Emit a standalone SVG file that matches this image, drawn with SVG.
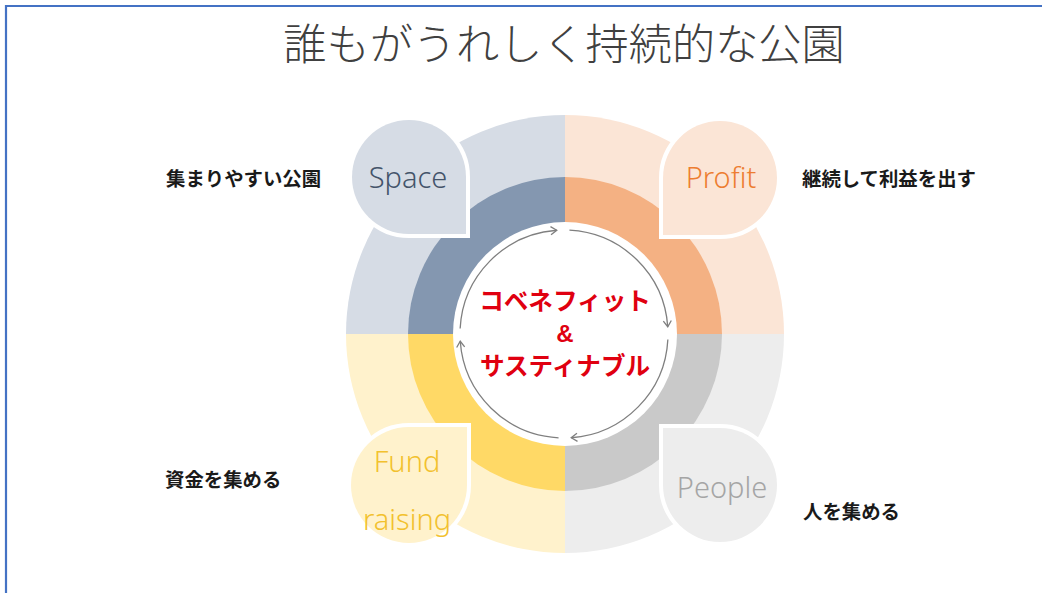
<svg xmlns="http://www.w3.org/2000/svg" width="1042" height="593" viewBox="0 0 1042 593">
  <style>
    .title{font-family:"Noto Sans CJK JP","Noto Sans",sans-serif;font-weight:300;font-size:43.2px;fill:#404040}
    .side{font-family:"Noto Sans CJK JP",sans-serif;font-weight:700;font-size:19.4px;fill:#1a1a1a}
    .core{font-family:"Noto Sans CJK JP",sans-serif;font-weight:700;font-size:24.6px;fill:#e00010;text-anchor:middle}
    .amp{font-family:"Liberation Sans",sans-serif;font-weight:700;font-size:24px;fill:#e00010;text-anchor:middle}
    .drop{stroke:#ffffff;stroke-width:8;paint-order:stroke;stroke-linejoin:miter}
    .dl{font-family:"Noto Sans","Noto Sans CJK JP",sans-serif;font-weight:300;font-size:29px;text-anchor:middle}
    .arc{fill:none;stroke:#7f7f7f;stroke-width:1.3;marker-end:url(#chev)}
  </style>
  <defs>
    <marker id="chev" markerUnits="userSpaceOnUse" markerWidth="10" markerHeight="10" refX="8" refY="5" orient="auto">
      <path d="M2,1 L8,5 L2,9" fill="none" stroke="#7f7f7f" stroke-width="1.3"/>
    </marker>
  </defs>
  <rect x="0" y="0" width="1042" height="593" fill="#ffffff"/>
  <path d="M6,593 L6,6 L1042,6" fill="none" stroke="#4472c4" stroke-width="2.2"/>

  <g id="title">
    <text class="title" x="564" y="60" text-anchor="middle">誰もがうれしく持続的な公園</text>
  </g>

  <g id="rings">
    <path d="M565,334 L346,334 A219,219 0 0 1 565,115 Z" fill="#d6dce5"/>
    <path d="M565,334 L565,115 A219,219 0 0 1 784,334 Z" fill="#fbe5d6"/>
    <path d="M565,334 L784,334 A219,219 0 0 1 565,553 Z" fill="#ededed"/>
    <path d="M565,334 L565,553 A219,219 0 0 1 346,334 Z" fill="#fff2cc"/>
    <path d="M565,334 L408,334 A157,157 0 0 1 565,177 Z" fill="#8497b0"/>
    <path d="M565,334 L565,177 A157,157 0 0 1 722,334 Z" fill="#f4b183"/>
    <path d="M565,334 L722,334 A157,157 0 0 1 565,491 Z" fill="#c9c9c9"/>
    <path d="M565,334 L565,491 A157,157 0 0 1 408,334 Z" fill="#ffd966"/>
    <circle cx="565" cy="334" r="112" fill="#ffffff"/>
  </g>

  <g id="connectors">
    <path class="arc" d="M460.14,328.56 A104,104 0 0 1 556.74,230.25"/>
    <path class="arc" d="M569.44,230.14 A104,104 0 0 1 667.75,326.74"/>
    <path class="arc" d="M667.86,339.44 A104,104 0 0 1 571.26,437.75"/>
    <path class="arc" d="M558.56,437.86 A104,104 0 0 1 460.25,341.26"/>
  </g>

  <g id="center">
    <text class="core" x="565" y="310">コベネフィット</text>
    <text class="amp" x="565" y="342">&amp;</text>
    <text class="core" x="565" y="375">サスティナブル</text>
  </g>

  <g id="space">
    <path class="drop" d="M466,177 L466,234 L409,234 A57,57 0 1 1 466,177 Z" fill="#d6dce5"/>
    <text class="dl" x="408" y="188" fill="#44546a">Space</text>
    <text class="side" x="166" y="186">集まりやすい公園</text>
  </g>

  <g id="profit">
    <path class="drop" d="M720,235 L663,235 L663,178 A57,57 0 1 1 720,235 Z" fill="#fbe5d6"/>
    <text class="dl" x="721" y="188" fill="#ed7d31">Profit</text>
    <text class="side" x="802" y="186">継続して利益を出す</text>
  </g>

  <g id="fund">
    <path class="drop" d="M409,427 L467,427 L467,485 A58,58 0 1 1 409,427 Z" fill="#fff2cc"/>
    <text class="dl" x="407" y="472" fill="#f2c12e">Fund</text>
    <text class="dl" x="407" y="530" fill="#f2c12e">raising</text>
    <text class="side" x="165" y="487">資金を集める</text>
  </g>

  <g id="people">
    <path class="drop" d="M663,485 L663,428 L720,428 A57,57 0 1 1 663,485 Z" fill="#ededed"/>
    <text class="dl" x="722" y="498" fill="#a5a5a5">People</text>
    <text class="side" x="803" y="519">人を集める</text>
  </g>
</svg>
